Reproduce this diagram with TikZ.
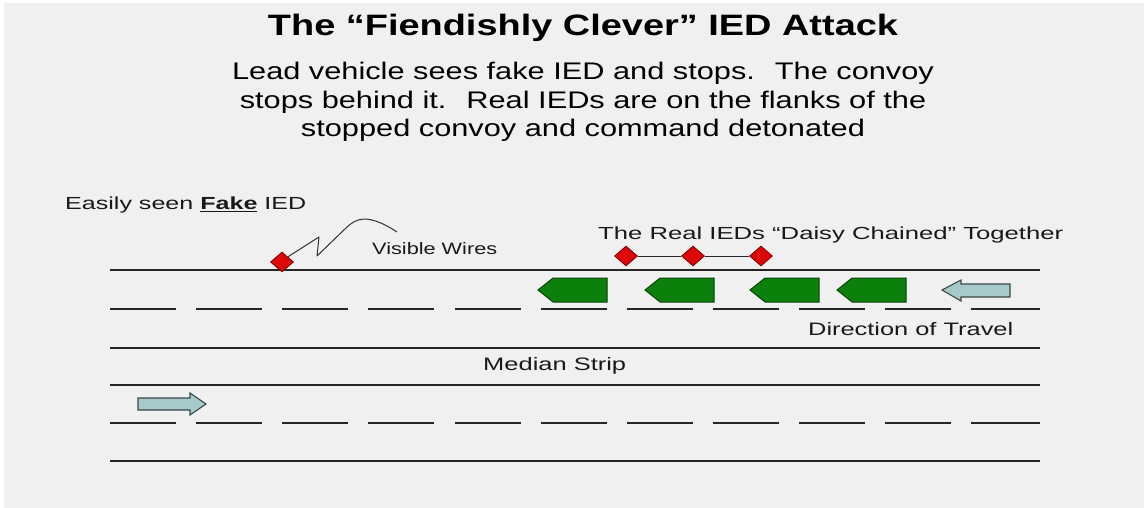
\documentclass[tikz,border=0pt]{standalone}
\usepackage{fontspec}
\setmainfont{Liberation Sans}
\usepackage{graphicx}
\usetikzlibrary{shapes.geometric}
\definecolor{bg}{HTML}{F0F0F0}
\definecolor{vgreen}{HTML}{0B800B}
\definecolor{vdark}{HTML}{0A3F0A}
\definecolor{iedred}{HTML}{DD0808}
\definecolor{ieddark}{HTML}{7A0000}
\definecolor{arrfill}{HTML}{A6CACA}
\definecolor{arrline}{HTML}{3A4848}
\newcommand{\fitw}[3]{\resizebox{#1}{\height}{\fontsize{#2}{#2}\selectfont #3}}
\begin{document}
\begin{tikzpicture}[x=1pt,y=-1pt,
  road/.style={line width=1.4pt, black!85},
  iedbox/.style={diamond, fill=iedred, draw=ieddark, line width=0.8pt, minimum width=23pt, minimum height=20pt, inner sep=0pt},
  vehicle/.style={fill=vgreen, draw=vdark, line width=1pt, line join=miter},
  travel/.style={fill=arrfill, draw=arrline, line width=1.1pt, line join=miter},
  label/.style={inner sep=0pt, anchor=base west, text=black!90},
  wire/.style={line width=1pt, black!80, line join=round}]
\useasboundingbox (0,0) rectangle (1144,508);
\fill[white] (0,0) rectangle (1144,508);
\fill[bg] (4,3) rectangle (1144,508);

% title and description
\node[inner sep=0pt, anchor=base] (title) at (583,36)
  {\fitw{630pt}{29.5pt}{\bfseries The “Fiendishly Clever” IED Attack}};
\node[inner sep=0pt, anchor=base] (desc) at (583,80)
  {\scalebox{1.281}[1]{\fontsize{24pt}{28.5pt}\selectfont
   \begin{tabular}[t]{@{}c@{}}Lead vehicle sees fake IED and stops.~ The convoy\\
   stops behind it.~ Real IEDs are on the flanks of the\\
   stopped convoy and command detonated\end{tabular}}};

% road lines
\coordinate (l1a) at (110,270); \coordinate (l1b) at (1040,270);
\coordinate (l2a) at (110,348); \coordinate (l2b) at (1040,348);
\coordinate (l3a) at (110,385); \coordinate (l3b) at (1040,385);
\coordinate (l4a) at (110,461); \coordinate (l4b) at (1040,461);
\draw[road] (l1a) -- (l1b);
\draw[road] (l2a) -- (l2b);
\draw[road] (l3a) -- (l3b);
\draw[road] (l4a) -- (l4b);
\foreach \xa/\xb in {110/176,196/262,282/348,368/434,455/521,541/607,627/693,713/779,799/865,885/951,971/1040}{
  \draw[road] (\xa,309) -- (\xb,309);
  \draw[road] (\xa,423) -- (\xb,423);
}

% labels
\node[label] (fake) at (65,210) {\fitw{241pt}{17.5pt}{Easily seen \underline{\textbf{Fake}} IED}};
\node[label] (wires) at (372,254) {\fitw{125pt}{16.5pt}{Visible Wires}};
\node[label] (real) at (598,240) {\fitw{465pt}{17.5pt}{The Real IEDs “Daisy Chained” Together}};
\node[label] (dir) at (808,335) {\fitw{205pt}{18pt}{Direction of Travel}};
\node[label] (median) at (483,370) {\fitw{143pt}{18pt}{Median Strip}};

% fake IED with wires
\node[iedbox] (f) at (282,262) {};
\coordinate (w1) at (319,237);
\coordinate (w2) at (317,256);
\coordinate (w3) at (397,232);
\draw[wire] (f.north east) -- (w1) -- (w2) -- (346,228) .. controls (356,218) and (368,213) .. (w3);

% daisy chained IEDs
\node[iedbox] (d1) at (626,256) {};
\node[iedbox] (d2) at (693,256) {};
\node[iedbox] (d3) at (761,256) {};
\draw[line width=1pt, black!85] (d1) -- (d2) -- (d3);

% convoy
\foreach \x in {538,645,750,837}{
  \draw[vehicle] (\x,290) -- ++(15,-12) -- ++(54,0) -- ++(0,24) -- ++(-54,0) -- cycle;
}

% direction arrows
\draw[travel] (942,290) -- (961,280) -- (961,284) -- (1010,284) -- (1010,297) -- (961,297) -- (961,301) -- cycle;
\draw[travel] (206,404) -- (190,393) -- (190,398) -- (138,398) -- (138,410) -- (190,410) -- (190,415) -- cycle;
\end{tikzpicture}
\end{document}
